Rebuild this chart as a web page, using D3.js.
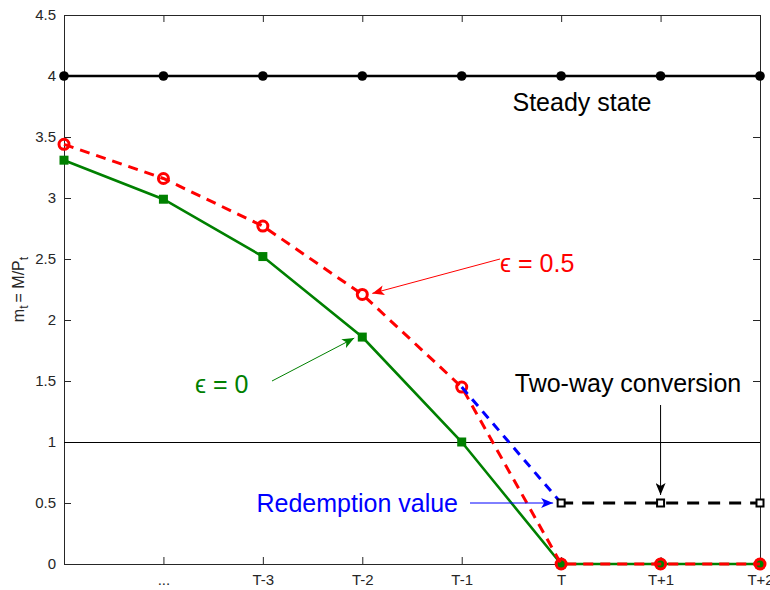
<!DOCTYPE html>
<html><head><meta charset="utf-8">
<script src="https://cdn.jsdelivr.net/npm/d3@7"></script>
<style>body{margin:0;background:#fff}svg{display:block;font-family:"Liberation Sans",Arial,sans-serif}</style>
</head><body><svg id="c" width="770" height="590"></svg>
<script>
const xIdx = [1,2,3,4,5,6,7,8];
const xTickLabels = ["", "...", "T-3", "T-2", "T-1", "T", "T+1", "T+2"];
const yTicks = [0,0.5,1,1.5,2,2.5,3,3.5,4,4.5];
const steady = [4,4,4,4,4,4,4,4];
const eps0 = [3.31,2.99,2.52,1.86,1.0,0,0,0];
const eps05 = [3.44,3.16,2.77,2.21,1.45,0,0,0];
const redemptionX = [5,6];
const redemption = [1.45,0.5];
const twoWayX = [6,7,8];
const twoWay = [0.5,0.5,0.5];

const svg = d3.select("#c");
const m = {l:64, r:10, t:15, b:26};
const W = 770, H = 590;
const x = d3.scaleLinear().domain([1,8]).range([m.l, W-m.r]);
const y = d3.scaleLinear().domain([0,4.5]).range([H-m.b, m.t]);

// axes
const tl = 7;
const gx = svg.append("g").attr("transform",`translate(0,${H-m.b})`)
  .call(d3.axisBottom(x).tickValues(xIdx.slice(1)).tickFormat((d)=>xTickLabels[d-1]).tickSizeInner(-tl).tickSizeOuter(0).tickPadding(10));
const gxt = svg.append("g").attr("transform",`translate(0,${m.t})`)
  .call(d3.axisTop(x).tickValues(xIdx.slice(1)).tickFormat("").tickSizeInner(-tl).tickSizeOuter(0));
const gy = svg.append("g").attr("transform",`translate(${m.l},0)`)
  .call(d3.axisLeft(y).tickValues(yTicks).tickFormat(d3.format("")).tickSizeInner(-tl).tickSizeOuter(0).tickPadding(8));
const gyr = svg.append("g").attr("transform",`translate(${W-m.r},0)`)
  .call(d3.axisRight(y).tickValues(yTicks).tickFormat("").tickSizeInner(-tl).tickSizeOuter(0));
[gx,gxt,gy,gyr].forEach(g=>{
  g.selectAll(".domain").attr("stroke","#262626").attr("stroke-width",1);
  g.selectAll(".tick line").attr("stroke","#262626");
  g.selectAll("text").attr("fill","#262626").style("font-size","15px").style("font-family","'Liberation Sans',Arial,sans-serif");
});

// y label
svg.append("text").attr("transform",`translate(24,${(m.t+H-m.b)/2}) rotate(-90)`)
  .attr("text-anchor","middle").style("font-size","16px").attr("fill","#262626")
  .html('m<tspan dy="4" font-size="12">t</tspan><tspan dy="-4" dx="3">= M/P</tspan><tspan dy="4" font-size="12">t</tspan>');

// horizontal line at 1
svg.append("line").attr("x1",x(1)).attr("x2",x(8)).attr("y1",Math.round(y(1))+0.5).attr("y2",Math.round(y(1))+0.5).attr("stroke","#000").attr("stroke-width",1.2);

const line = d3.line().x(d=>x(d[0])).y(d=>y(d[1]));

// steady state
const ss = xIdx.map((d,i)=>[d,steady[i]]);
svg.append("path").attr("d",line(ss)).attr("fill","none").attr("stroke","#000").attr("stroke-width",2.6);
svg.selectAll(".ss").data(ss).join("circle").attr("cx",d=>x(d[0])).attr("cy",d=>y(d[1])).attr("r",4.8).attr("fill","#000");

// green eps=0
const g0 = xIdx.map((d,i)=>[d,eps0[i]]);
svg.append("path").attr("d",line(g0)).attr("fill","none").attr("stroke","#008000").attr("stroke-width",2.6);
svg.selectAll(".g0").data(g0).join("rect").attr("x",d=>x(d[0])-4.5).attr("y",d=>y(d[1])-4.5).attr("width",9).attr("height",9).attr("fill","#008000");

// red eps=0.5
const r5 = xIdx.map((d,i)=>[d,eps05[i]]);
svg.append("path").attr("d",line(r5)).attr("fill","none").attr("stroke","#ff0000").attr("stroke-width",3).attr("stroke-dasharray","10,7");
svg.selectAll(".r5").data(r5).join("circle").attr("cx",d=>x(d[0])).attr("cy",d=>y(d[1])).attr("r",5).attr("fill","none").attr("stroke","#ff0000").attr("stroke-width",3);

// blue redemption
const bl = redemptionX.map((d,i)=>[d,redemption[i]]);
svg.append("path").attr("d",line(bl)).attr("fill","none").attr("stroke","#0000ff").attr("stroke-width",3).attr("stroke-dasharray","9,7");

// black two-way
const tw = twoWayX.map((d,i)=>[d,twoWay[i]]);
svg.append("path").attr("d",line(tw)).attr("fill","none").attr("stroke","#000").attr("stroke-width",3).attr("stroke-dasharray","12,9");
svg.selectAll(".tw").data(tw).join("rect").attr("x",d=>x(d[0])-3.5).attr("y",d=>y(d[1])-3.5).attr("width",7).attr("height",7).attr("fill","#fff").attr("stroke","#000").attr("stroke-width",2);

// arrowheads
const defs = svg.append("defs");
function marker(id,color){
  defs.append("marker").attr("id",id).attr("viewBox","0 0 12 10").attr("refX",12).attr("refY",5)
    .attr("markerWidth",12).attr("markerHeight",10).attr("markerUnits","userSpaceOnUse").attr("orient","auto")
    .append("path").attr("d","M0,0 L12,5 L0,10 L3,5 Z").attr("fill",color);
}
marker("ar","#ff0000"); marker("ag","#008000"); marker("ab","#0000ff"); marker("ak","#000");
function arrow(x1,y1,x2,y2,id,color){
  svg.append("line").attr("x1",x1).attr("y1",y1).attr("x2",x2).attr("y2",y2).attr("stroke",color).attr("stroke-width",1).attr("marker-end",`url(#${id})`);
}
// annotations
const fs = "25px";
svg.append("text").attr("x",582).attr("y",111).attr("text-anchor","middle").style("font-size",fs).attr("fill","#000").text("Steady state");
svg.append("text").attr("x",500).attr("y",272).style("font-size",fs).attr("fill","#ff0000").text("ϵ = 0.5");
arrow(500,259,x(4)+10,y(eps05[3])-1,"ar","#ff0000");
svg.append("text").attr("x",195).attr("y",393).style("font-size",fs).attr("fill","#008000").text("ϵ = 0");
arrow(272,381,x(4)-8,y(eps0[3])+1,"ag","#008000");
svg.append("text").attr("x",628).attr("y",392).attr("text-anchor","middle").style("font-size",fs).attr("fill","#000").text("Two-way conversion");
arrow(x(7),405,x(7),y(0.5)-8,"ak","#000");
svg.append("text").attr("x",458).attr("y",512).attr("text-anchor","end").style("font-size",fs).attr("fill","#0000ff").text("Redemption value");
arrow(470,y(0.5),x(6)-8,y(0.5),"ab","#0000ff");
</script></body></html>
